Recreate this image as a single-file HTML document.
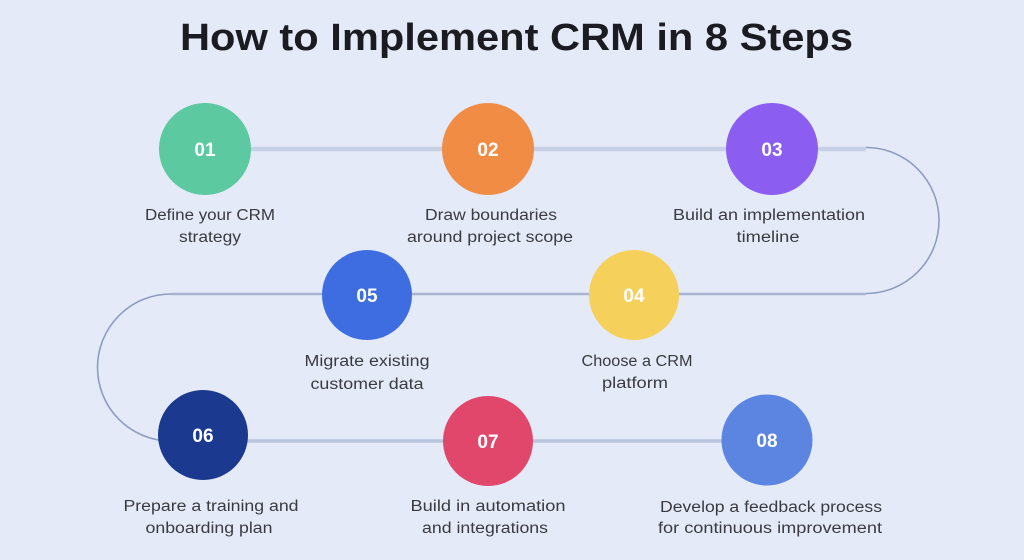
<!DOCTYPE html>
<html>
<head>
<meta charset="utf-8">
<style>
  html,body{margin:0;padding:0;background:#e4eaf8;}
  svg{display:block;}
  .lbl{font-family:"Liberation Sans",sans-serif;font-size:15.5px;fill:#3a3b40;text-anchor:middle;}
  .num{font-family:"Liberation Sans",sans-serif;font-size:19px;font-weight:bold;fill:#ffffff;text-anchor:middle;}
</style>
</head>
<body>
<svg width="1024" height="560" viewBox="0 0 1024 560" xmlns="http://www.w3.org/2000/svg">
  <rect x="0" y="0" width="1024" height="560" fill="#e4eaf8"/>

  <!-- Title -->
  <text x="516.5" y="50" font-family="Liberation Sans, sans-serif" font-size="38" font-weight="bold" fill="#1b1c22" text-anchor="middle" textLength="673" lengthAdjust="spacingAndGlyphs">How to Implement CRM in 8 Steps</text>

  <!-- Connectors -->
  <line x1="205" y1="149" x2="866" y2="149" stroke="#c7d0e5" stroke-width="4.5"/>
  <path d="M 866 147.5 A 73 73 0 0 1 866 293.5" fill="none" stroke="#8e9cc0" stroke-width="1.6"/>
  <line x1="171" y1="294" x2="866" y2="294" stroke="#a9b5d1" stroke-width="2.5"/>
  <path d="M 171 294 A 73.5 73.5 0 0 0 171 441" fill="none" stroke="#8e9cc0" stroke-width="1.6"/>
  <line x1="171" y1="441" x2="767" y2="441" stroke="#b9c4dd" stroke-width="3.5"/>

  <!-- Circles -->
  <circle cx="205" cy="149" r="46" fill="#5cc9a0"/>
  <circle cx="488" cy="149" r="46" fill="#f08c44"/>
  <circle cx="772" cy="149" r="46" fill="#8b5df1"/>
  <circle cx="634" cy="295" r="45" fill="#f5d05b"/>
  <circle cx="367" cy="295" r="45" fill="#3d6de0"/>
  <circle cx="203" cy="435" r="45" fill="#1b3a8f"/>
  <circle cx="488" cy="441" r="45" fill="#e1466b"/>
  <circle cx="767" cy="440" r="45.5" fill="#5b85e0"/>

  <!-- Numbers -->
  <text class="num" x="205" y="156">01</text>
  <text class="num" x="488" y="156">02</text>
  <text class="num" x="772" y="156">03</text>
  <text class="num" x="634" y="302">04</text>
  <text class="num" x="367" y="302">05</text>
  <text class="num" x="203" y="442">06</text>
  <text class="num" x="488" y="448">07</text>
  <text class="num" x="767" y="447">08</text>

  <!-- Labels -->
  <text class="lbl" x="210" y="220" textLength="130" lengthAdjust="spacingAndGlyphs">Define your CRM</text>
  <text class="lbl" x="210" y="242" textLength="62" lengthAdjust="spacingAndGlyphs">strategy</text>

  <text class="lbl" x="491" y="220" textLength="132" lengthAdjust="spacingAndGlyphs">Draw boundaries</text>
  <text class="lbl" x="490" y="242" textLength="166" lengthAdjust="spacingAndGlyphs">around project scope</text>

  <text class="lbl" x="769" y="220" textLength="192" lengthAdjust="spacingAndGlyphs">Build an implementation</text>
  <text class="lbl" x="768" y="242" textLength="63" lengthAdjust="spacingAndGlyphs">timeline</text>

  <text class="lbl" x="637" y="366" textLength="111" lengthAdjust="spacingAndGlyphs">Choose a CRM</text>
  <text class="lbl" x="635" y="388" textLength="66" lengthAdjust="spacingAndGlyphs">platform</text>

  <text class="lbl" x="367" y="366" textLength="125" lengthAdjust="spacingAndGlyphs">Migrate existing</text>
  <text class="lbl" x="367" y="389" textLength="113" lengthAdjust="spacingAndGlyphs">customer data</text>

  <text class="lbl" x="211" y="511" textLength="175" lengthAdjust="spacingAndGlyphs">Prepare a training and</text>
  <text class="lbl" x="209" y="533" textLength="127" lengthAdjust="spacingAndGlyphs">onboarding plan</text>

  <text class="lbl" x="488" y="511" textLength="155" lengthAdjust="spacingAndGlyphs">Build in automation</text>
  <text class="lbl" x="485" y="533" textLength="126" lengthAdjust="spacingAndGlyphs">and integrations</text>

  <text class="lbl" x="771" y="512" textLength="222" lengthAdjust="spacingAndGlyphs">Develop a feedback process</text>
  <text class="lbl" x="770" y="533" textLength="224" lengthAdjust="spacingAndGlyphs">for continuous improvement</text>
</svg>
</body>
</html>
